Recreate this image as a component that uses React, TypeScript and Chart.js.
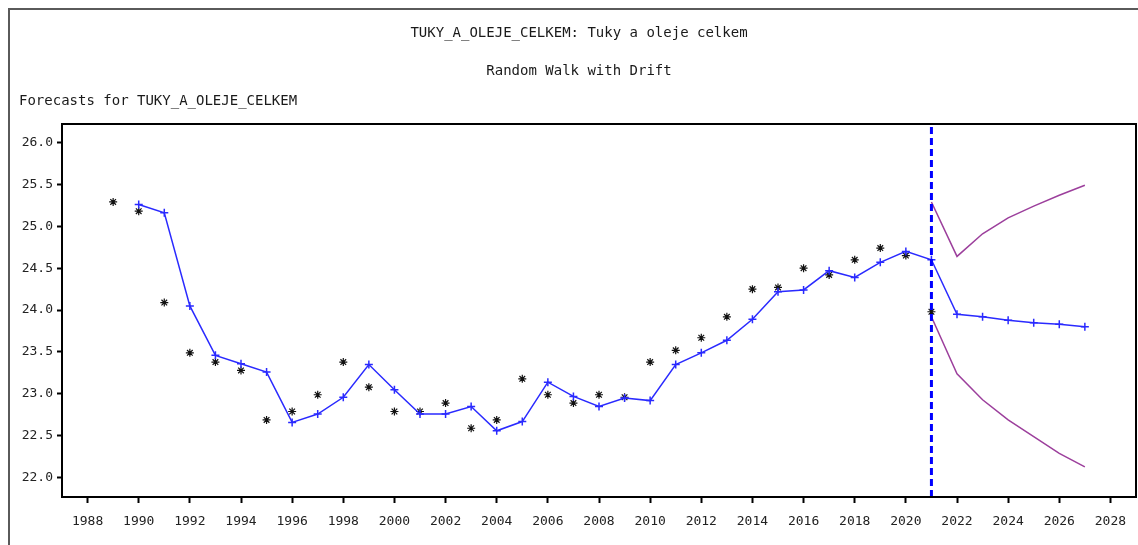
import React, { useEffect, useRef } from "react";
import { Chart, registerables } from "chart.js";

Chart.register(...registerables);

const actualYears = [1989, 1990, 1991, 1992, 1993, 1994, 1995, 1996, 1997, 1998, 1999, 2000, 2001, 2002, 2003, 2004, 2005, 2006, 2007, 2008, 2009, 2010, 2011, 2012, 2013, 2014, 2015, 2016, 2017, 2018, 2019, 2020, 2021];
const actualValues = [25.29, 25.18, 24.09, 23.49, 23.38, 23.28, 22.69, 22.79, 22.99, 23.38, 23.08, 22.79, 22.79, 22.89, 22.59, 22.69, 23.18, 22.99, 22.89, 22.99, 22.96, 23.38, 23.52, 23.67, 23.92, 24.25, 24.27, 24.5, 24.42, 24.6, 24.74, 24.65, 23.98];

const fittedYears = [1990, 1991, 1992, 1993, 1994, 1995, 1996, 1997, 1998, 1999, 2000, 2001, 2002, 2003, 2004, 2005, 2006, 2007, 2008, 2009, 2010, 2011, 2012, 2013, 2014, 2015, 2016, 2017, 2018, 2019, 2020, 2021, 2022, 2023, 2024, 2025, 2026, 2027];
const fittedValues = [25.26, 25.16, 24.05, 23.46, 23.36, 23.26, 22.66, 22.76, 22.96, 23.35, 23.05, 22.76, 22.76, 22.85, 22.56, 22.67, 23.14, 22.97, 22.85, 22.95, 22.92, 23.35, 23.49, 23.64, 23.89, 24.22, 24.24, 24.47, 24.39, 24.57, 24.7, 24.6, 23.95, 23.92, 23.88, 23.85, 23.83, 23.8];

const boundYears = [2021, 2022, 2023, 2024, 2025, 2026, 2027];
const upperValues = [25.29, 24.64, 24.91, 25.1, 25.24, 25.37, 25.49];
const lowerValues = [23.92, 23.24, 22.93, 22.69, 22.49, 22.29, 22.13];

const forecastStartYear = 2021;
const yTickValues = [22.0, 22.5, 23.0, 23.5, 24.0, 24.5, 25.0, 25.5, 26.0];
const xTickValues = [1988, 1990, 1992, 1994, 1996, 1998, 2000, 2002, 2004, 2006, 2008, 2010, 2012, 2014, 2016, 2018, 2020, 2022, 2024, 2026, 2028];

const titleText = "TUKY_A_OLEJE_CELKEM: Tuky a oleje celkem";
const subtitleText = "Random Walk with Drift";
const leftTitleText = "Forecasts for TUKY_A_OLEJE_CELKEM";

const X_MIN = 1987;
const X_MAX = 2029;
const Y_MIN = 21.77;
const Y_MAX = 26.22;

const FONT = '"DejaVu Sans Mono", "Liberation Mono", monospace';

const pair = (xs: number[], ys: number[]) => xs.map((x, i) => ({ x, y: ys[i] }));

export default function App() {
  const ref = useRef<HTMLCanvasElement | null>(null);

  useEffect(() => {
    if (!ref.current) return;

    const decorPlugin = {
      id: "decor",
      beforeDraw(chart: any) {
        const ctx = chart.ctx;
        ctx.save();
        ctx.fillStyle = "#ffffff";
        ctx.fillRect(0, 0, chart.width, chart.height);
        // outer frame
        ctx.strokeStyle = "#5a5a5a";
        ctx.lineWidth = 2;
        ctx.beginPath();
        ctx.moveTo(9, chart.height + 5);
        ctx.lineTo(9, 9);
        ctx.lineTo(chart.width + 5, 9);
        ctx.stroke();
        // titles
        ctx.fillStyle = "#1a1a1a";
        ctx.font = `14px ${FONT}`;
        ctx.textBaseline = "middle";
        ctx.textAlign = "center";
        ctx.fillText(titleText, 579, 33);
        ctx.fillText(subtitleText, 579, 71);
        ctx.textAlign = "left";
        ctx.fillText(leftTitleText, 19, 101);
        ctx.restore();
      },
      afterDraw(chart: any) {
        const { ctx, chartArea } = chart;
        ctx.save();
        ctx.strokeStyle = "#000000";
        ctx.lineWidth = 2;
        ctx.strokeRect(chartArea.left, chartArea.top, chartArea.right - chartArea.left, chartArea.bottom - chartArea.top);
        ctx.restore();
      },
    };

    const chart = new Chart(ref.current, {
      type: "line",
      data: {
        datasets: [
          {
            label: "Forecast start",
            data: [
              { x: forecastStartYear, y: Y_MIN },
              { x: forecastStartYear, y: Y_MAX },
            ],
            borderColor: "#0000ff",
            borderWidth: 3,
            borderDash: [7, 4],
            pointRadius: 0,
            fill: false,
          },
          {
            label: "Upper",
            data: pair(boundYears, upperValues),
            borderColor: "#9c3f9c",
            borderWidth: 1.5,
            pointRadius: 0,
            fill: false,
          },
          {
            label: "Lower",
            data: pair(boundYears, lowerValues),
            borderColor: "#9c3f9c",
            borderWidth: 1.5,
            pointRadius: 0,
            fill: false,
          },
          {
            label: "Forecast",
            data: pair(fittedYears, fittedValues),
            borderColor: "#2a2aff",
            borderWidth: 1.5,
            pointStyle: "cross",
            pointRadius: 4,
            pointBorderWidth: 1.5,
            pointBorderColor: "#2a2aff",
            fill: false,
          },
          {
            label: "Actual",
            data: pair(actualYears, actualValues),
            showLine: false,
            borderColor: "#111111",
            pointStyle: "star",
            pointRadius: 4,
            pointBorderWidth: 1.2,
            pointBorderColor: "#111111",
            fill: false,
          },
        ],
      },
      options: {
        animation: false,
        responsive: false,
        devicePixelRatio: 1,
        layout: { autoPadding: false, padding: { left: 0, top: 124, right: 2, bottom: 0 } },
        plugins: {
          legend: { display: false },
          title: { display: false },
          tooltip: { enabled: false },
        },
        scales: {
          x: {
            type: "linear",
            min: X_MIN,
            max: X_MAX,
            afterBuildTicks: (scale: any) => {
              scale.ticks = xTickValues.map((v) => ({ value: v }));
            },
            afterFit: (scale: any) => {
              scale.height = 48;
              scale.paddingLeft = 0;
              scale.paddingRight = 0;
            },
            ticks: {
              autoSkip: false,
              maxRotation: 0,
              padding: 11,
              color: "#222222",
              font: { family: FONT, size: 13 },
              callback: (v: any) => String(v),
            },
            grid: {
              drawOnChartArea: false,
              drawTicks: true,
              tickLength: 6,
              tickWidth: 2,
              tickColor: "#000000",
            },
            border: { display: false },
          },
          y: {
            type: "linear",
            min: Y_MIN,
            max: Y_MAX,
            afterBuildTicks: (scale: any) => {
              scale.ticks = yTickValues.map((v) => ({ value: v }));
            },
            afterFit: (scale: any) => {
              scale.width = 62;
              scale.paddingTop = 0;
              scale.paddingBottom = 0;
            },
            ticks: {
              autoSkip: false,
              padding: 4,
              color: "#222222",
              font: { family: FONT, size: 13 },
              callback: (v: any) => Number(v).toFixed(1),
            },
            grid: {
              drawOnChartArea: false,
              drawTicks: true,
              tickLength: 5,
              tickWidth: 2,
              tickColor: "#000000",
            },
            border: { display: false },
          },
        },
      },
      plugins: [decorPlugin],
    } as any);

    return () => chart.destroy();
  }, []);

  return (
    <div style={{ position: "absolute", left: 0, top: 0, width: 1138, height: 545 }}>
      <canvas ref={ref} width={1138} height={545} style={{ width: 1138, height: 545, display: "block" }} />
    </div>
  );
}
